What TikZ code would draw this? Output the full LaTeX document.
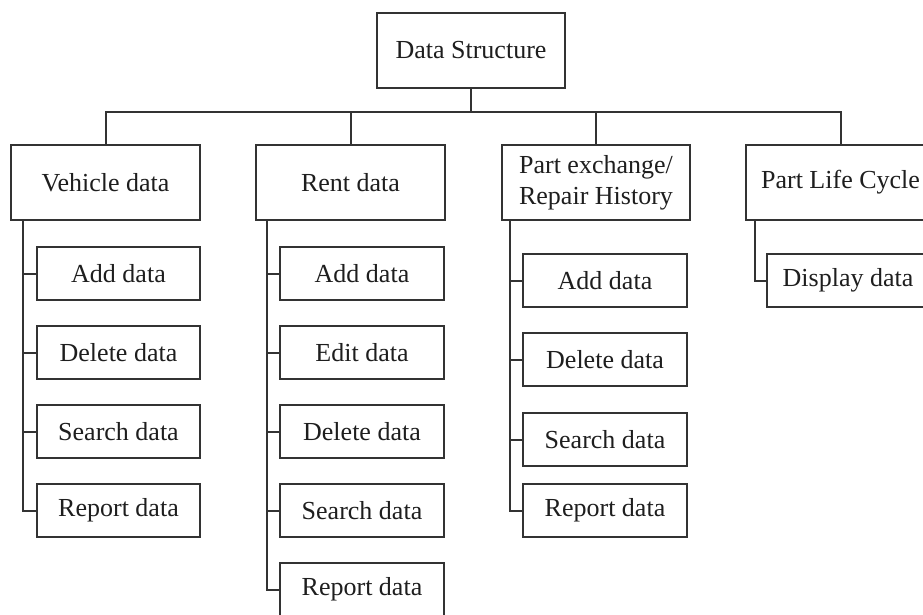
\documentclass[tikz,border=0pt]{standalone}
\usepackage{fontspec}
\setmainfont{Liberation Serif}
\definecolor{linec}{HTML}{333333}
\definecolor{textc}{HTML}{1E1E1E}
\begin{document}
\begin{tikzpicture}[x=1pt,y=-1pt,
  box/.style={draw=linec,line width=2pt,fill=white,inner sep=0pt,text=textc,
    font=\fontsize{26}{31}\selectfont,align=center},
  topbox/.style={box,minimum width=189pt,minimum height=75pt},
  subbox/.style={box,minimum width=164pt,minimum height=53pt},
  conn/.style={draw=linec,line width=2pt}]
\useasboundingbox (0,0) rectangle (923,615);
\fill[white] (0,0) rectangle (923,615);
\begin{scope}
\clip (0,0) rectangle (923,615);
% nodes
\node[topbox,minimum width=188pt] (root) at (471,50.5) {Data Structure};
\node[topbox] (veh) at (105.5,182.5) {Vehicle data};
\node[topbox] (rent) at (350.5,182.5) {Rent data};
\node[topbox,minimum width=188pt] (part) at (596,182.5) {Part exchange/\\Repair History};
\node[topbox] (life) at (840.5,182.5) {Part Life Cycle};

\node[subbox,minimum width=163pt] (v1) at (118.5,273.5) {Add data};
\node[subbox,minimum width=163pt] (v2) at (118.5,352.5) {Delete data};
\node[subbox,minimum width=163pt] (v3) at (118.5,431.5) {Search data};
\node[subbox,minimum width=163pt] (v4) at (118.5,510.5) {Report data};

\node[subbox] (r1) at (362,273.5) {Add data};
\node[subbox] (r2) at (362,352.5) {Edit data};
\node[subbox] (r3) at (362,431.5) {Delete data};
\node[subbox] (r4) at (362,510.5) {Search data};
\node[subbox] (r5) at (362,589.5) {Report data};

\node[subbox] (p1) at (605,280.5) {Add data};
\node[subbox] (p2) at (605,359.5) {Delete data};
\node[subbox] (p3) at (605,439.5) {Search data};
\node[subbox] (p4) at (605,510.5) {Report data};

\node[subbox,minimum width=162pt] (l1) at (848,280.5) {Display data};

% helper coordinates
\coordinate (bus) at (0,112);
\coordinate (vx) at (23,0);
\coordinate (rx) at (267,0);
\coordinate (px) at (510,0);
\coordinate (lx) at (755,0);

% connectors level 0 -> 1
\draw[conn] (root.south) -- (root.south |- bus);
\draw[conn] (veh.north) -- (veh.north |- bus) -- (life.north |- bus) -- (life.north);
\draw[conn] (rent.north) -- (rent.north |- bus);
\draw[conn] (part.north) -- (part.north |- bus);

% children
\foreach \c in {v1,v2,v3,v4}{\draw[conn] (veh.south -| vx) |- (\c.west);}
\foreach \c in {r1,r2,r3,r4,r5}{\draw[conn] (rent.south -| rx) |- (\c.west);}
\foreach \c in {p1,p2,p3,p4}{\draw[conn] (part.south -| px) |- (\c.west);}
\draw[conn] (life.south -| lx) |- (l1.west);
\end{scope}
\end{tikzpicture}
\end{document}
